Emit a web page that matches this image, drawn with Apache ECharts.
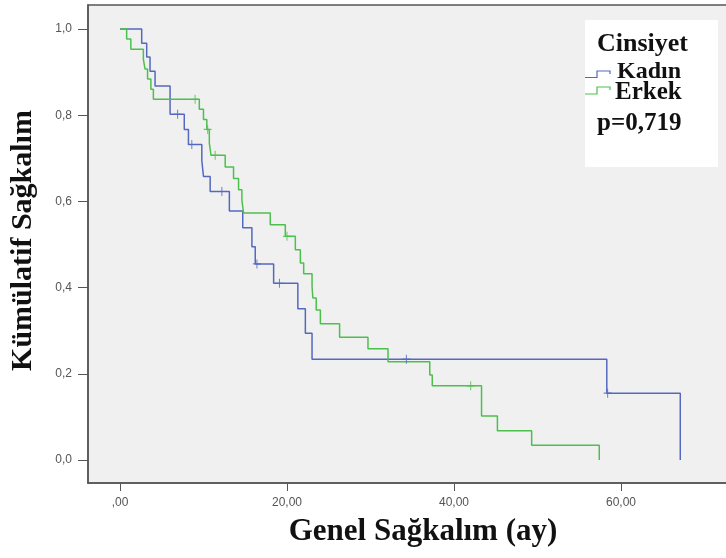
<!DOCTYPE html>
<html>
<head>
<meta charset="utf-8">
<script src="https://cdn.jsdelivr.net/npm/echarts@6/dist/echarts.min.js"></script>
<style>html,body{margin:0;padding:0;background:#fff;}#c{width:726px;height:558px;}</style>
</head>
<body>
<div id="c"></div>
<script>
// ---- data (months, cumulative survival) ----
const kadinTime = [0, 2.6, 3.2, 3.6, 4.2, 6.0, 7.7, 8.2, 9.8, 10.0, 10.8, 13.1, 14.7, 15.8, 16.2, 18.4, 21.3, 22.2, 23.0, 58.3, 67.1];
const kadinSurv = [1.0, 0.967, 0.935, 0.902, 0.868, 0.802, 0.767, 0.732, 0.695, 0.658, 0.623, 0.578, 0.539, 0.495, 0.455, 0.410, 0.351, 0.294, 0.234, 0.155, 0.0];
const kadinCensTime = [6.9, 8.6, 12.2, 16.4, 19.1, 34.3, 58.4];
const kadinCensSurv = [0.802, 0.732, 0.623, 0.455, 0.410, 0.234, 0.155];

const erkekTime = [0, 0.8, 1.3, 2.8, 3.0, 3.3, 3.7, 4.0, 9.5, 10.0, 10.4, 10.7, 10.9, 12.6, 13.6, 14.2, 14.6, 14.8, 18.0, 19.8, 21.0, 21.6, 22.0, 23.0, 23.1, 23.5, 24.0, 26.3, 29.7, 32.1, 37.1, 37.4, 43.3, 45.2, 49.3, 57.4];
const erkekSurv = [1.0, 0.977, 0.953, 0.930, 0.907, 0.884, 0.860, 0.837, 0.814, 0.790, 0.767, 0.735, 0.707, 0.680, 0.653, 0.627, 0.603, 0.573, 0.546, 0.519, 0.488, 0.457, 0.432, 0.403, 0.376, 0.348, 0.316, 0.285, 0.258, 0.228, 0.197, 0.172, 0.102, 0.068, 0.034, 0.0];
const erkekCensTime = [9.0, 10.5, 11.4, 20.0, 42.0];
const erkekCensSurv = [0.837, 0.767, 0.707, 0.519, 0.172];

const xTicks = [0, 20, 40, 60];
const xTickLabels = [',00', '20,00', '40,00', '60,00'];
const yTicks = [0, 0.2, 0.4, 0.6, 0.8, 1.0];
const yTickLabels = ['0,0', '0,2', '0,4', '0,6', '0,8', '1,0'];

const groupNames = ['Kadın', 'Erkek'];
const legendTitle = 'Cinsiyet';
const pText = 'p=0,719';
const xTitle = 'Genel Sağkalım (ay)';
const yTitle = 'Kümülatif Sağkalım';

// ---- styles ----
const BLUE = '#5468c0';
const GREEN = '#4cc04c';
const SERIF = '"Liberation Serif", "Times New Roman", serif';
const crossPath = 'path://M4,0h1.2v9h-1.2z M0,3.9h9.2v1.2h-9.2z';

function zip(a, b) { return a.map((v, i) => [v, b[i]]); }

const chart = echarts.init(document.getElementById('c'), null, {renderer: 'canvas'});
const option = {
  animation: false,
  backgroundColor: '#ffffff',
  grid: {
    left: 88, top: 5, width: 660, height: 478,
    outerBoundsMode: 'none', containLabel: false,
    show: true, backgroundColor: '#f0f0f0', borderColor: '#555', borderWidth: 1.5
  },
  xAxis: {
    type: 'value', min: -3.83, max: 75.21,
    splitLine: {show: false},
    axisLine: {show: true, onZero: false, lineStyle: {color: '#555', width: 1.5}},
    axisTick: {show: true, length: 8, customValues: xTicks, lineStyle: {color: '#555'}},
    axisLabel: {
      customValues: xTicks, margin: 14, color: '#555', fontSize: 12,
      fontFamily: '"Liberation Sans", Arial, sans-serif',
      formatter: v => { const i = xTicks.indexOf(Math.round(v)); return i >= 0 ? xTickLabels[i] : ''; }
    }
  },
  yAxis: {
    type: 'value', min: -0.0534, max: 1.0557,
    splitLine: {show: false},
    axisLine: {show: true, onZero: false, lineStyle: {color: '#555', width: 1.5}},
    axisTick: {show: true, length: 10, customValues: yTicks, lineStyle: {color: '#555'}},
    axisLabel: {
      customValues: yTicks, margin: 16, color: '#555', fontSize: 12,
      fontFamily: '"Liberation Sans", Arial, sans-serif',
      formatter: v => { const i = yTicks.findIndex(t => Math.abs(t - v) < 1e-6); return i >= 0 ? yTickLabels[i] : ''; }
    }
  },
  series: [
    {name: groupNames[0], type: 'line', step: 'end', symbol: 'none', data: zip(kadinTime, kadinSurv),
     lineStyle: {color: BLUE, width: 1.5}, itemStyle: {color: BLUE}, z: 2},
    {name: groupNames[1], type: 'line', step: 'end', symbol: 'none', data: zip(erkekTime, erkekSurv),
     lineStyle: {color: GREEN, width: 1.5}, itemStyle: {color: GREEN}, z: 3},
    {name: groupNames[0] + ' sansür', type: 'scatter', symbol: crossPath, symbolSize: [8, 9],
     data: zip(kadinCensTime, kadinCensSurv), itemStyle: {color: BLUE}, z: 4},
    {name: groupNames[1] + ' sansür', type: 'scatter', symbol: crossPath, symbolSize: [8, 9],
     data: zip(erkekCensTime, erkekCensSurv), itemStyle: {color: GREEN}, z: 4}
  ],
  graphic: [
    {type: 'text', x: 23.5, y: 240.5, rotation: Math.PI / 2,
     style: {text: yTitle, font: 'bold 30px ' + SERIF, fill: '#111', align: 'center', verticalAlign: 'middle'}},
    {type: 'text', x: 423, y: 532,
     style: {text: xTitle, font: 'bold 31px ' + SERIF, fill: '#111', align: 'center', verticalAlign: 'middle'}},
    {type: 'rect', shape: {x: 585, y: 20, width: 133, height: 147}, style: {fill: '#ffffff'}, z: 10},
    {type: 'text', x: 597, y: 44, z: 11,
     style: {text: legendTitle, font: 'bold 26px ' + SERIF, fill: '#111', align: 'left', verticalAlign: 'middle'}},
    {type: 'polyline', z: 11, shape: {points: [[585, 77.5], [597, 77.5], [597, 71], [610, 71], [610, 74]]},
     style: {stroke: BLUE, lineWidth: 1.2, fill: null}},
    {type: 'text', x: 617, y: 72, z: 11,
     style: {text: groupNames[0], font: 'bold 24px ' + SERIF, fill: '#111', align: 'left', verticalAlign: 'middle'}},
    {type: 'polyline', z: 11, shape: {points: [[585, 94], [597, 94], [597, 87], [610, 87], [610, 90]]},
     style: {stroke: GREEN, lineWidth: 1.2, fill: null}},
    {type: 'text', x: 615, y: 93, z: 11,
     style: {text: groupNames[1], font: 'bold 25px ' + SERIF, fill: '#111', align: 'left', verticalAlign: 'middle'}},
    {type: 'text', x: 597, y: 124, z: 11,
     style: {text: pText, font: 'bold 25px ' + SERIF, fill: '#111', align: 'left', verticalAlign: 'middle'}}
  ]
};
chart.setOption(option);
</script>
</body>
</html>
